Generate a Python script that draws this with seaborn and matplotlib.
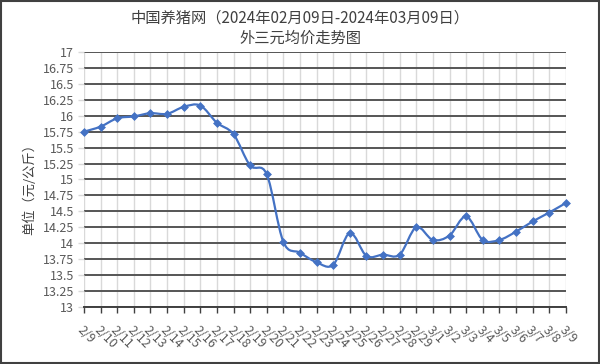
import numpy as np
import pandas as pd
import matplotlib
matplotlib.use('Agg')
import matplotlib.pyplot as plt
import seaborn as sns
from matplotlib.path import Path
from matplotlib.patches import PathPatch, Rectangle

dates = ['2/9', '2/10', '2/11', '2/12', '2/13', '2/14', '2/15', '2/16', '2/17', '2/18',
         '2/19', '2/20', '2/21', '2/22', '2/23', '2/24', '2/25', '2/26', '2/27', '2/28',
         '2/29', '3/1', '3/2', '3/3', '3/4', '3/5', '3/6', '3/7', '3/8', '3/9']
prices = [15.75, 15.83, 15.96, 15.99, 16.04, 16.03, 16.14, 16.16, 15.89, 15.71,
          15.22, 15.08, 14.02, 13.85, 13.70, 13.66, 14.16, 13.80, 13.82, 13.82,
          14.25, 14.05, 14.12, 14.42, 14.05, 14.05, 14.18, 14.34, 14.48, 14.63]
y_ticks = [13, 13.25, 13.5, 13.75, 14, 14.25, 14.5, 14.75, 15, 15.25, 15.5,
           15.75, 16, 16.25, 16.5, 16.75, 17]
title1 = '中国养猪网（2024年02月09日-2024年03月09日）'
title2 = '外三元均价走势图'
ylabel = '单位（元/公斤）'

sns.set_theme(style='white')
plt.rcParams['font.family'] = ['Noto Sans CJK SC', 'DejaVu Sans']

df = pd.DataFrame({'idx': np.arange(len(dates)), 'date': dates, 'price': prices})

fig = plt.figure(figsize=(6, 3.64), dpi=100)
ax = fig.add_axes([0.14, 0.157, 0.803, 0.70])

# smooth line (Excel-style Bezier smoothing) built from data points
x = df['idx'].to_numpy(dtype=float)
y = df['price'].to_numpy(dtype=float)
verts = [(x[0], y[0])]
codes = [Path.MOVETO]
n = len(x)
for i in range(n - 1):
    p0 = np.array([x[max(i - 1, 0)], y[max(i - 1, 0)]])
    p1 = np.array([x[i], y[i]])
    p2 = np.array([x[i + 1], y[i + 1]])
    p3 = np.array([x[min(i + 2, n - 1)], y[min(i + 2, n - 1)]])
    c1 = p1 + (p2 - p0) / 6.0
    c2 = p2 - (p3 - p1) / 6.0
    verts += [tuple(c1), tuple(c2), tuple(p2)]
    codes += [Path.CURVE4] * 3
ax.add_patch(PathPatch(Path(verts, codes), facecolor='none', edgecolor='#4472C4',
                       lw=1.6, zorder=3, clip_on=False))

sns.scatterplot(data=df, x='idx', y='price', marker='D', s=16, color='#4472C4',
                edgecolor='#4472C4', linewidth=0.5, ax=ax, zorder=4, clip_on=False,
                legend=False)

ax.set_xlim(0, len(dates) - 1)
ax.set_ylim(13, 17)
ax.set_yticks(y_ticks)
ax.set_yticklabels([('%g' % v) for v in y_ticks], fontsize=9, color='#595959')
ax.set_xticks(np.arange(len(dates)))
ax.set_xticklabels(dates, rotation=-45, ha='left', rotation_mode='anchor',
                   fontsize=9, color='#595959')
ax.set_xlabel('')
ax.set_ylabel('')

ax.yaxis.grid(True, color='#555555', lw=1.4, zorder=1)
ax.xaxis.grid(True, color='#d9d9d9', lw=1.0, zorder=0)
ax.set_axisbelow(True)
for s in ['top', 'right', 'left']:
    ax.spines[s].set_visible(False)
ax.spines['bottom'].set_color('#404040')
ax.spines['bottom'].set_linewidth(1.4)
ax.tick_params(axis='x', direction='out', length=4, width=1, color='#404040', pad=8)
ax.tick_params(axis='y', direction='out', length=4, width=1, color='#d9d9d9', pad=3)
ax.tick_params(axis='both', bottom=True, left=True)

fig.text(0.5, 0.95, title1, ha='center', va='center', fontsize=11, color='#404040')
fig.text(0.5, 0.895, title2, ha='center', va='center', fontsize=11, color='#404040')
fig.text(0.05, 0.49, ylabel, ha='center', va='center', rotation=90, fontsize=9.5,
         color='#404040')

fig.patches.append(Rectangle((0.002, 0.003), 0.996, 0.994, transform=fig.transFigure,
                             fill=False, edgecolor='#404040', lw=1.5))

fig.savefig('out.png', dpi=100)
